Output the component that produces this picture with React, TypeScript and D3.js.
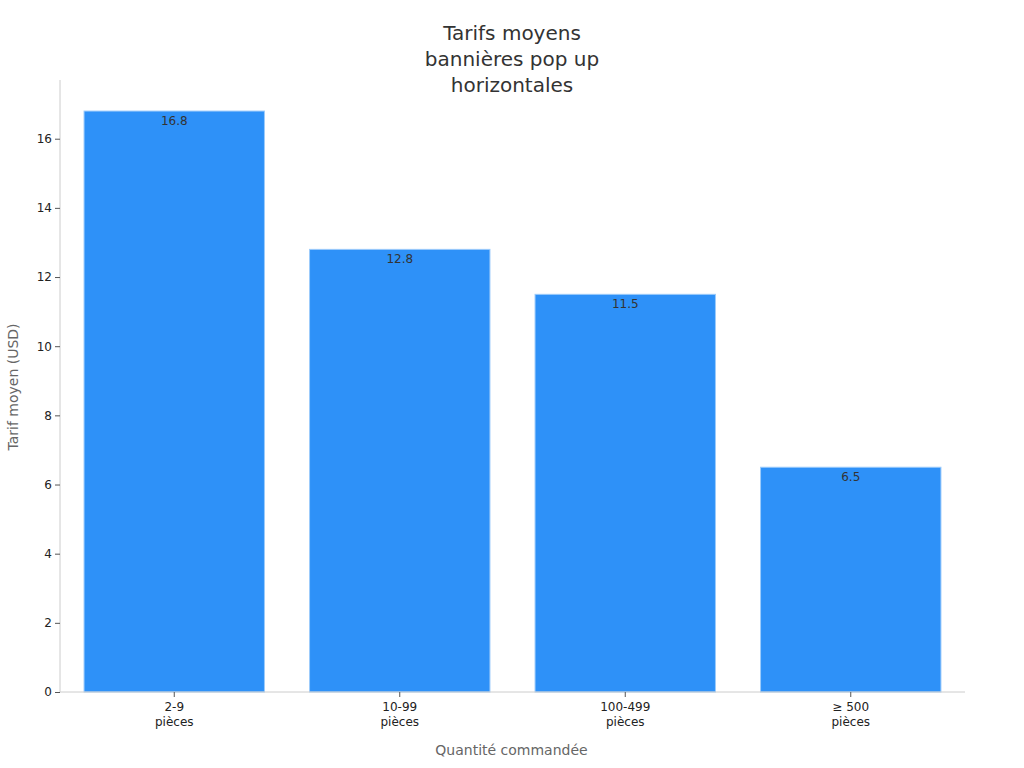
import { useEffect, useRef } from "react";
import * as d3 from "d3";

const categories = ["2-9\npièces", "10-99\npièces", "100-499\npièces", "≥ 500\npièces"];
const values = [16.8, 12.8, 11.5, 6.5];
const yTicks = [0, 2, 4, 6, 8, 10, 12, 14, 16];
const titleLines = ["Tarifs moyens", "bannières pop up", "horizontales"];

export default function App() {
  const ref = useRef<SVGSVGElement>(null);

  useEffect(() => {
    if (!ref.current) return;
    const width = 1024;
    const height = 768;
    const margin = { top: 82, right: 61, bottom: 76, left: 60 };
    const chartWidth = width - margin.left - margin.right;
    const chartHeight = height - margin.top - margin.bottom;

    const svg = d3.select(ref.current);
    svg.selectAll("*").remove();
    svg.attr("width", width).attr("height", height).style("font-family", "DejaVu Sans, sans-serif");

    // Title
    svg
      .append("text")
      .attr("x", width / 2)
      .attr("y", 40)
      .attr("text-anchor", "middle")
      .attr("font-size", 20)
      .attr("fill", "#333")
      .selectAll("tspan")
      .data(titleLines)
      .enter()
      .append("tspan")
      .attr("x", width / 2)
      .attr("dy", (_, i) => (i === 0 ? 0 : 26))
      .text((d) => d);

    const g = svg.append("g").attr("transform", `translate(${margin.left},${margin.top})`);

    const x = d3
      .scaleBand()
      .domain(categories)
      .range([1.5, chartWidth + 0.5])
      .paddingInner(0.2)
      .paddingOuter(0.1);

    const y = d3
      .scaleLinear()
      .domain([0, d3.max(values)! * 1.05])
      .range([chartHeight, 0]);

    const data = categories.map((c, i) => ({ c, v: values[i] }));

    g.selectAll(".bar")
      .data(data)
      .enter()
      .append("rect")
      .attr("class", "bar")
      .attr("x", (d) => x(d.c)!)
      .attr("y", (d) => y(d.v))
      .attr("width", x.bandwidth())
      .attr("height", (d) => chartHeight - y(d.v))
      .attr("fill", "#2e91f8")
      .attr("stroke", "#9ccbfb")
      .attr("stroke-width", 1);

    g.selectAll(".lbl")
      .data(data)
      .enter()
      .append("text")
      .attr("class", "lbl")
      .attr("x", (d) => x(d.c)! + x.bandwidth() / 2)
      .attr("y", (d) => y(d.v) + 14)
      .attr("text-anchor", "middle")
      .attr("font-size", 12)
      .attr("fill", "#333")
      .text((d) => d.v.toString());

    // Y axis
    const yAxis = g.append("g").call(d3.axisLeft(y).tickValues(yTicks).tickSize(5).tickPadding(3));
    yAxis.select(".domain").attr("stroke", "#ccc").attr("d", `M0,${chartHeight}V${y(y.domain()[1]) - 2}`);
    yAxis.selectAll(".tick line").attr("stroke", "#555");
    yAxis.selectAll(".tick text").attr("font-size", 12).attr("fill", "#222").attr("font-family", "DejaVu Sans, sans-serif");

    // X axis
    const xAxis = g
      .append("g")
      .attr("transform", `translate(0,${chartHeight})`)
      .call(d3.axisBottom(x).tickSize(5).tickPadding(5));
    xAxis.select(".domain").attr("stroke", "#ccc").attr("d", `M0,0H${chartWidth + 2}`);
    xAxis.selectAll(".tick line").attr("stroke", "#555");
    xAxis.selectAll<SVGTextElement, string>(".tick text").each(function (d) {
      const t = d3.select(this);
      t.text(null).attr("font-size", 12).attr("fill", "#222").attr("font-family", "DejaVu Sans, sans-serif");
      d.split("\n").forEach((line, i) => {
        t.append("tspan").attr("x", 0).attr("dy", i === 0 ? "0.71em" : "1.3em").text(line);
      });
    });

    // Axis titles
    svg
      .append("text")
      .attr("x", margin.left + chartWidth / 2)
      .attr("y", 755)
      .attr("text-anchor", "middle")
      .attr("font-size", 14)
      .attr("fill", "#666")
      .text("Quantité commandée");

    svg
      .append("text")
      .attr("transform", `translate(18,${margin.top + chartHeight / 2}) rotate(-90)`)
      .attr("text-anchor", "middle")
      .attr("font-size", 14)
      .attr("fill", "#666")
      .text("Tarif moyen (USD)");
  }, []);

  return <svg ref={ref} style={{ display: "block", position: "absolute", left: 0, top: 0 }} />;
}
